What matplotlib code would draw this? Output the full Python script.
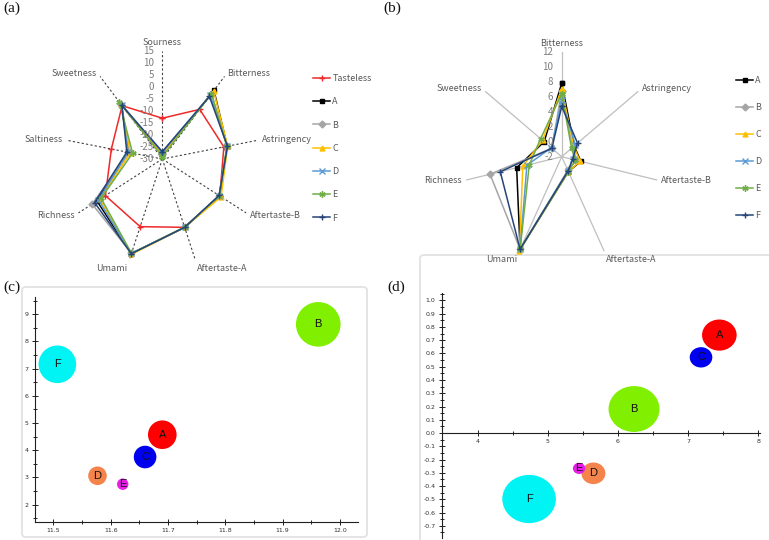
import matplotlib
matplotlib.use("Agg")
import matplotlib.pyplot as plt
import numpy as np
from matplotlib.patches import FancyBboxPatch
from matplotlib.path import Path
from matplotlib.transforms import Affine2D, ScaledTranslation
from matplotlib.ticker import MultipleLocator, FormatStrFormatter

plt.rcParams["axes.unicode_minus"] = False

# (a) radar: e-tongue responses incl. the tasteless reference
a_axes = ["Sourness", "Bitterness", "Astringency", "Aftertaste-B", "Aftertaste-A",
          "Umami", "Richness", "Saltiness", "Sweetness"]
a_names = ["Tasteless", "A", "B", "C", "D", "E", "F"]
a_tasteless = [-13, -3, -1, 0.8, 0.3, 0, 0.5, -6, -1]
a_A = [-28.5, 7.3, 0.6, 0.8, 0.3, 12.0, 5.0, -14.0, -0.5]
a_B = [-28.0, 5.5, 0.5, 0.6, 0.3, 11.8, 7.6, -14.5, -0.5]
a_C = [-28.5, 7.0, 0.8, 1.5, 0.3, 12.3, 3.5, -15.0, 0.0]
a_D = [-27.0, 4.6, 0.6, 0.5, 0.3, 11.9, 4.2, -13.8, -0.8]
a_E = [-29.0, 5.5, 0.4, 0.5, 0.3, 11.8, 2.8, -16.0, 1.0]
a_F = [-27.0, 4.0, 0.7, 0.4, 0.3, 12.0, 6.3, -13.3, -0.8]

# (b) radar: without sourness / saltiness
b_axes = ["Bitterness", "Astringency", "Aftertaste-B", "Aftertaste-A",
          "Umami", "Richness", "Sweetness"]
b_names = ["A", "B", "C", "D", "E", "F"]
b_A = [7.8, 0.3, 0.8, 0.2, 11.7, 4.6, 1.2]
b_B = [6.8, 0.0, 0.2, 0.0, 11.7, 8.5, -0.2]
b_C = [7.0, 0.2, 0.7, 0.2, 11.9, 3.7, 1.5]
b_D = [5.5, 0.5, -0.4, 0.1, 11.7, 3.1, -0.1]
b_E = [6.4, -0.2, 0.0, 0.2, 11.7, 2.75, 1.85]
b_F = [4.7, 0.9, -0.4, 0.1, 11.7, 7.0, -0.2]

# (c), (d) bubble charts
samples = ["A", "B", "C", "D", "E", "F"]
c_x = [11.69, 11.962, 11.66, 11.577, 11.621, 11.507]
c_y = [4.57, 8.63, 3.75, 3.06, 2.75, 7.16]
c_size = [14.3, 22.3, 11.3, 9.3, 5.7, 18.8]
d_x = [7.445, 6.23, 7.184, 5.651, 5.447, 4.735]
d_y = [0.739, 0.181, 0.571, -0.304, -0.267, -0.498]
d_size = [17.3, 25.5, 11.3, 12.0, 6.2, 26.8]

line_colors = {"Tasteless": "#ee2a2a", "A": "#000000", "B": "#a5a5a5", "C": "#ffc000",
               "D": "#5b9bd5", "E": "#70ad47", "F": "#264478"}
line_markers = {"Tasteless": "+", "A": "s", "B": "D", "C": "^",
                "D": "x", "E": (6, 2, 0), "F": "+"}
bubble_colors = ["#ff0000", "#80f000", "#0000f0", "#f5844c", "#e81ee8", "#00f4f4"]

W, H = 769, 540
fig = plt.figure(figsize=(W / 100, H / 100), dpi=100)
grey = "#595959"
rfont = ["Noto Sans CJK SC", "DejaVu Sans"]


def px_rect(x0, y0, x1, y1):
    return [x0 / W, 1 - y1 / H, (x1 - x0) / W, (y1 - y0) / H]


def radar(rect, labels, rmin, rmax, rstep, names, data, spoke, leg_anchor, leg_space):
    ax = fig.add_axes(rect, projection="polar")
    ax.set_aspect("auto")
    ax.set_theta_offset(np.pi / 2)
    ax.set_theta_direction(-1)
    ax.patch.set_visible(False)
    n = len(labels)
    theta = np.arange(n) * 2 * np.pi / n
    ax.set_ylim(rmin, rmax)
    ax.set_xticks(theta)
    ax.set_xticklabels([])
    ax.set_yticks([])
    ax.spines["polar"].set_visible(False)
    ax.grid(False)
    ax.xaxis.grid(True, **spoke)
    # radial scale labels left of the top spoke
    shift = ax.transData + ScaledTranslation(-6 / 72, 0, fig.dpi_scale_trans)
    for v in range(rmin, rmax + 1, rstep):
        ax.text(0, v, str(v), transform=shift, ha="right", va="center",
                fontsize=7, color="#7f7f7f", family=rfont)
    # category labels outside the rim
    for t, lab in zip(theta, labels):
        phi = np.pi / 2 - t
        c, s = np.cos(phi), np.sin(phi)
        ha = "left" if c > 0.15 else ("right" if c < -0.15 else "center")
        va = "top" if s < -0.85 else ("bottom" if s > 0.95 else "center")
        ax.annotate(lab, xy=(t, rmax), xytext=(3 * c, 3 * s), textcoords="offset points",
                    ha=ha, va=va, fontsize=6.5, color=grey, family=rfont,
                    annotation_clip=False)
    handles = []
    for name, vals in zip(names, data):
        v = list(vals) + [vals[0]]
        t = list(theta) + [theta[0]]
        mk = line_markers[name]
        h, = ax.plot(t, v, color=line_colors[name], lw=1.1, marker=mk,
                     ms=3.5 if mk not in ("+", "x", (6, 2, 0)) else 4.5,
                     mew=1.0, label=name, clip_on=False)
        handles.append(h)
    ax.legend(handles=handles, loc="upper left", bbox_to_anchor=leg_anchor,
              bbox_transform=fig.transFigure, frameon=False, borderpad=0,
              borderaxespad=0, handlelength=1.9, handletextpad=0.25,
              labelspacing=leg_space, labelcolor=grey,
              prop={"family": rfont, "size": 6.5})
    return ax


radar(px_rect(65.3, 51, 259.3, 267), a_axes, -30, 15, 5, a_names,
      [a_tasteless, a_A, a_B, a_C, a_D, a_E, a_F],
      dict(color="#404040", ls=(0, (2, 2)), lw=0.8),
      (313 / W, 1 - 74 / H), 1.58)

radar(px_rect(463.7, 51.7, 659.7, 261.7), b_axes, -2, 12, 2, b_names,
      [b_A, b_B, b_C, b_D, b_E, b_F],
      dict(color="#bfbfbf", ls="-", lw=0.9),
      (736 / W, 1 - 76 / H), 2.0)


def bubble(rect, frame, xs, ys, sizes, marker, xlim, ylim, xmaj, xmin, ymaj, ymin,
           xfmt, yfmt, xaxis_at_zero):
    fig.add_artist(FancyBboxPatch((frame[0], frame[1]), frame[2], frame[3],
                                  boxstyle="round,pad=0,rounding_size=0.006",
                                  transform=fig.transFigure, fc="white",
                                  ec="#e2e2e2", lw=1.3, zorder=0))
    ax = fig.add_axes(rect)
    ax.patch.set_visible(False)
    ax.set_xlim(*xlim)
    ax.set_ylim(*ylim)
    for sp in ("top", "right"):
        ax.spines[sp].set_visible(False)
    for sp in ("left", "bottom"):
        ax.spines[sp].set_linewidth(0.8)
        ax.spines[sp].set_color("#202020")
    if xaxis_at_zero:
        ax.spines["bottom"].set_position(("data", 0))
    ax.xaxis.set_major_locator(MultipleLocator(xmaj))
    ax.xaxis.set_minor_locator(MultipleLocator(xmin))
    ax.yaxis.set_major_locator(MultipleLocator(ymaj))
    ax.yaxis.set_minor_locator(MultipleLocator(ymin))
    ax.xaxis.set_major_formatter(FormatStrFormatter(xfmt))
    ax.yaxis.set_major_formatter(FormatStrFormatter(yfmt))
    ax.tick_params(which="both", direction="inout", width=0.7, color="#202020",
                   labelsize=4.5, labelcolor="#303030", pad=2.5)
    ax.tick_params(which="major", length=4)
    ax.tick_params(which="minor", length=3.5)
    s = [(2 * r * 0.72) ** 2 for r in sizes]
    ax.scatter(xs, ys, s=s, c=bubble_colors, marker=marker, linewidths=0, zorder=3)
    for x, y, lab in zip(xs, ys, samples):
        ax.text(x, y, lab, ha="center", va="center", fontsize=8,
                family="Liberation Sans", color="#111111", zorder=4)
    return ax


bubble(px_rect(35, 296.6, 358.4, 522),
       (22 / W, 3 / H, 345 / W, 250 / H),
       c_x, c_y, c_size, "o", (11.468, 12.032), (1.36, 9.65),
       0.1, 0.05, 1, 0.5, "%.1f", "%d", False)

ellipse = Path.unit_circle().transformed(Affine2D().scale(1, 0.9))
bubble(px_rect(441.7, 293.2, 759.7, 537.7),
       (420 / W, -8 / H, 360 / W, 293 / H),
       d_x, d_y, d_size, ellipse, (3.49, 8.02), (-0.79, 1.055),
       1, 0.5, 0.1, 0.05, "%d", "%.1f", True)

for lab, x, y in [("(a)", 3, 2), ("(b)", 383, 2), ("(c)", 3, 281), ("(d)", 387, 281)]:
    fig.text(x / W, 1 - y / H, lab, ha="left", va="top", fontsize=11,
             family="Liberation Serif", color="#111111")

fig.savefig("out.png", dpi=100)
